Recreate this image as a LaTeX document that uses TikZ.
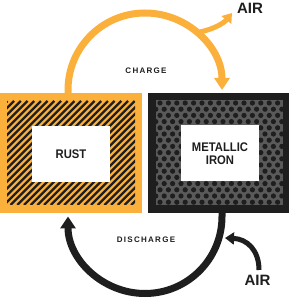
\documentclass[tikz,border=0pt]{standalone}
\usepackage{fontspec}
\setmainfont{Liberation Sans}
\newfontfamily\lblfont[FakeStretch=0.9]{Liberation Sans}
\usetikzlibrary{arrows.meta}
\definecolor{orng}{HTML}{FBB03B}
\definecolor{blk}{HTML}{1E1E1E}
\definecolor{dotbg}{HTML}{5A5A5A}
\tikzset{
  boxlbl/.style={fill=white, minimum width=78pt, minimum height=56pt, inner sep=0pt, align=center, font=\lblfont\bfseries\fontsize{12.5}{13.5}\selectfont, text=blk},
  airlbl/.style={font=\bfseries\fontsize{15}{16}\selectfont, text=blk, inner sep=0pt},
  proclbl/.style={font=\bfseries\fontsize{8}{9}\selectfont\addfontfeature{LetterSpace=16}, text=blk, inner sep=0pt},
  bigarrow/.style={line width=7pt, -{Triangle[width=15pt,length=12pt]}},
  smallarrow/.style={line width=5pt, -{Triangle[width=12pt,length=9pt]}},
}
\begin{document}
\begin{tikzpicture}[x=1pt,y=1pt]
\useasboundingbox (0,0) rectangle (291,300);
\fill[white] (0,0) rectangle (291,300);
% left box
\fill[orng] (0,87) rectangle (142,207);
\begin{scope}
\clip (7,95) rectangle (135,199);
\foreach \x in {-110,-103.3,...,140} {
  \draw[blk, line width=2.3pt] (\x,95) -- ++(104,104);
}
\end{scope}
% right box
\fill[blk] (148,87) rectangle (289,207);
\fill[dotbg] (156,95) rectangle (283,200);
\begin{scope}
\clip (156,95) rectangle (283,200);
\foreach \j in {0,...,17} {
  \pgfmathsetmacro{\off}{mod(\j,2)*4.2}
  \foreach \i in {-1,...,16} {
    \fill[blk] (160+\off+8.4*\i, 197-6.2*\j) circle (2.6pt);
  }
}
\end{scope}
\node[boxlbl] (rust) at (71,146) {RUST};
\node[boxlbl] (iron) at (220,146.5) {METALLIC\\[-1pt]IRON};
% charge arc
\coordinate (cs) at (68,207);
\draw[orng, bigarrow] (cs) -- (68,210) arc[start angle=180, end angle=0, radius=77];
\coordinate (cb) at (200,268);
\coordinate (airt) at (232,287);
\draw[orng, smallarrow] (cb) .. controls (214,271) and (224,277) .. (airt);
\node[airlbl] (air1) at (250,292) {AIR};
\node[proclbl] (charge) at (146,229.5) {CHARGE};
% discharge arc
\coordinate (ds) at (222,87);
\draw[blk, bigarrow] (ds) -- (222,83.5) arc[start angle=0, end angle=-180, radius=77];
\coordinate (ab) at (259,30);
\coordinate (abt) at (225,62);
\draw[blk, smallarrow] (ab) .. controls (259,50) and (247,61) .. (abt);
\node[airlbl] (air2) at (257.5,20) {AIR};
\node[proclbl] (discharge) at (146,60) {DISCHARGE};
\end{tikzpicture}
\end{document}
